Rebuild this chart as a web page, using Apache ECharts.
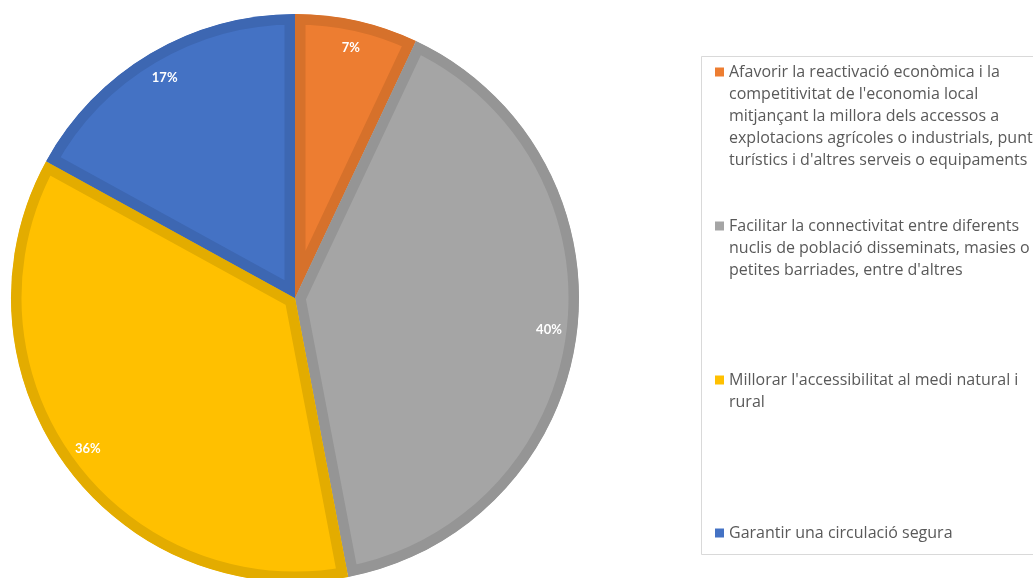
<!DOCTYPE html>
<html><head><meta charset="utf-8">
<script src="https://cdn.jsdelivr.net/npm/echarts@6/dist/echarts.min.js"></script>
<style>html,body{margin:0;padding:0;background:#fff}#c{width:1033px;height:578px}</style>
</head><body><div id="c"></div>
<script>
const categories = [
  "Afavorir la reactivació econòmica i la\ncompetitivitat de l'economia local\nmitjançant la millora dels accessos a\nexplotacions agrícoles o industrials, punts\nturístics i d'altres serveis o equipaments",
  "Facilitar la connectivitat entre diferents\nnuclis de població disseminats, masies o\npetites barriades, entre d'altres",
  "Millorar l'accessibilitat al medi natural i\nrural",
  "Garantir una circulació segura"
];
const values = [7, 40, 36, 17];
const fillColors = ['#ED7D31', '#A5A5A5', '#FFC000', '#4472C4'];
const borderColors = ['#D6712B', '#959595', '#E3AC00', '#3D67B2'];

const LH = 22;
const legendCenters = [72, 226, 380, 533];
const CENTER = [295, 298];
const RADIUS = 284;

const cumStart = [];
let acc = 0;
values.forEach(v => { cumStart.push(acc); acc += v; });
const total = acc;

const chart = echarts.init(document.getElementById('c'), null, {renderer: 'canvas'});
chart.setOption({
  animation: false,
  backgroundColor: '#ffffff',
  graphic: [{
    type: 'rect', shape: {x: 701.5, y: 56.5, width: 345, height: 498},
    style: {fill: 'none', stroke: '#D9D9D9', lineWidth: 1}, silent: true
  }],
  polar: {center: CENTER, radius: RADIUS},
  angleAxis: {type: 'value', min: 0, max: total, startAngle: 90, clockwise: true, show: false},
  radiusAxis: {type: 'value', min: 0, max: 1, show: false},
  legend: categories.map((name, i) => {
    const n = name.split('\n').length;
    return {
      data: [name], orient: 'vertical', left: 715,
      top: legendCenters[i] - (2 * n - 1) * LH / 2,
      padding: 0, itemWidth: 9, itemHeight: 9, icon: 'rect', selectedMode: false,
      itemStyle: {borderWidth: 0},
      formatter: (nm) => '\u00a0\n'.repeat(n - 1) + nm,
      textStyle: {fontFamily: 'Open Sans', fontSize: 16, color: '#595959', lineHeight: LH}
    };
  }),
  series: [
    {
      type: 'pie', center: CENTER, radius: [0, RADIUS - 4], startAngle: 90, clockwise: true,
      silent: true, z: 1, label: {show: false}, labelLine: {show: false},
      data: values.map((v, i) => ({name: categories[i], value: v, itemStyle: {color: fillColors[i]}}))
    },
    {
      type: 'custom', coordinateSystem: 'polar', z: 3, silent: true,
      data: values.map((v, i) => [1, cumStart[i], cumStart[i] + v, i]),
      encode: {radius: 0, angle: 1},
      renderItem: (params, api) => {
        const cx = params.coordSys.cx, cy = params.coordSys.cy;
        const i = api.value(3);
        const p0 = api.coord([api.value(0), api.value(1)]);
        const p1 = api.coord([api.value(0), api.value(2)]);
        const r = Math.hypot(p0[0] - cx, p0[1] - cy);
        const a0 = Math.atan2(p0[1] - cy, p0[0] - cx);
        let a1 = Math.atan2(p1[1] - cy, p1[0] - cx);
        if (a1 <= a0) a1 += Math.PI * 2;
        const shape = {cx: cx, cy: cy, r0: 0, r: r, startAngle: a0, endAngle: a1, clockwise: true};
        return {
          type: 'sector', shape: shape,
          style: {fill: fillColors[i], stroke: borderColors[i], lineWidth: 21, lineJoin: 'miter'},
          clipPath: {type: 'sector', shape: Object.assign({}, shape)}
        };
      }
    },
    {
      type: 'pie', center: CENTER, radius: [222, RADIUS], startAngle: 90, clockwise: true,
      silent: true, z: 5, itemStyle: {color: 'rgba(0,0,0,0)', borderWidth: 0},
      label: {show: true, position: 'inside', formatter: '{c}%', color: '#ffffff',
        fontWeight: 'bold', fontFamily: 'Lato', fontSize: 13},
      labelLine: {show: false},
      data: values.map((v, i) => ({name: categories[i], value: v}))
    }
  ]
});
</script></body></html>
